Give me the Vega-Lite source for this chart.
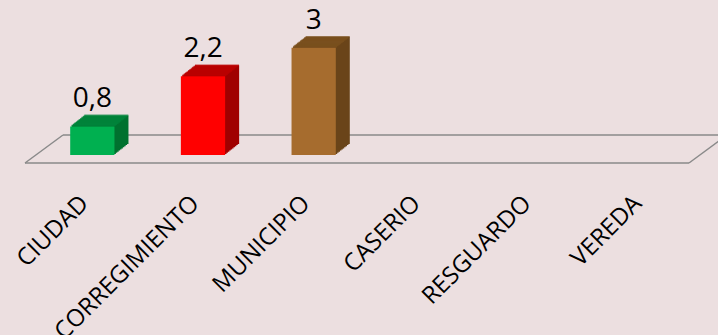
{
  "$schema": "https://vega.github.io/schema/vega-lite/v6.json",
  "width": 664,
  "height": 143,
  "autosize": {"type": "none"},
  "padding": {"left": 37, "top": 12, "right": 17, "bottom": 180},
  "background": "#ecdfe0",
  "config": {"view": {"stroke": null}, "font": "Open Sans"},
  "layer": [
    {
      "data": {"values": [{}]},
      "layer": [
        {"mark": {"type": "rule", "color": "#8a8a8a", "strokeWidth": 1.5, "xOffset": -12, "x2Offset": -12, "yOffset": 8, "y2Offset": 8},
         "encoding": {"x": {"datum": 0, "type": "quantitative", "scale": {"domain": [0, 1], "nice": false}, "axis": null}, "x2": {"datum": 1}, "y": {"datum": 0, "type": "quantitative", "axis": null}, "y2": {"datum": 0}}},
        {"mark": {"type": "rule", "color": "#8a8a8a", "strokeWidth": 1.5, "xOffset": 26, "x2Offset": 26, "yOffset": -20, "y2Offset": -20},
         "encoding": {"x": {"datum": 0, "type": "quantitative", "axis": null}, "x2": {"datum": 1}, "y": {"datum": 0, "type": "quantitative", "axis": null}, "y2": {"datum": 0}}},
        {"mark": {"type": "rule", "color": "#8a8a8a", "strokeWidth": 1.5, "xOffset": -12, "x2Offset": 26, "yOffset": 8, "y2Offset": -20},
         "encoding": {"x": {"datum": 0, "type": "quantitative", "axis": null}, "x2": {"datum": 0}, "y": {"datum": 0, "type": "quantitative", "axis": null}, "y2": {"datum": 0}}},
        {"mark": {"type": "rule", "color": "#8a8a8a", "strokeWidth": 1.5, "xOffset": -12, "x2Offset": 26, "yOffset": 8, "y2Offset": -20},
         "encoding": {"x": {"datum": 1, "type": "quantitative", "axis": null}, "x2": {"datum": 1}, "y": {"datum": 0, "type": "quantitative", "axis": null}, "y2": {"datum": 0}}}
      ]
    },
    {
      "data": {"values": [
        {"categoria": "CIUDAD", "valor": 0.8, "etiqueta": "0,8"},
        {"categoria": "CORREGIMIENTO", "valor": 2.2, "etiqueta": "2,2"},
        {"categoria": "MUNICIPIO", "valor": 3, "etiqueta": "3"},
        {"categoria": "CASERIO", "valor": null, "etiqueta": ""},
        {"categoria": "RESGUARDO", "valor": null, "etiqueta": ""},
        {"categoria": "VEREDA", "valor": null, "etiqueta": ""}
      ]},
      "encoding": {
        "x": {"field": "categoria", "type": "nominal", "sort": null,
              "scale": {"domain": ["CIUDAD", "CORREGIMIENTO", "MUNICIPIO", "CASERIO", "RESGUARDO", "VEREDA"], "paddingInner": 0.6, "paddingOuter": 0.3},
              "axis": {"title": null, "domain": false, "ticks": false, "labelAngle": -45, "labelFontSize": 24, "labelFont": "Open Sans", "labelColor": "#000000", "labelPadding": 36, "labelOffset": -16, "labelOverlap": false, "labelBound": false, "labelLimit": 0}},
        "y": {"field": "valor", "type": "quantitative", "scale": {"domain": [0, 4], "nice": false}, "axis": null}
      },
      "layer": [
        {
          "encoding": {"color": {"field": "categoria", "type": "nominal", "scale": {"domain": ["CIUDAD", "CORREGIMIENTO", "MUNICIPIO"], "range": ["#00712f", "#a00000", "#6a4419"]}, "legend": null}},
          "layer": [
            {"mark": {"type": "bar", "xOffset": 1.4, "x2Offset": 1.4, "yOffset": -1.1, "y2Offset": -1.1}},
            {"mark": {"type": "bar", "xOffset": 2.8, "x2Offset": 2.8, "yOffset": -2.2, "y2Offset": -2.2}},
            {"mark": {"type": "bar", "xOffset": 4.2, "x2Offset": 4.2, "yOffset": -3.3, "y2Offset": -3.3}},
            {"mark": {"type": "bar", "xOffset": 5.6, "x2Offset": 5.6, "yOffset": -4.4, "y2Offset": -4.4}},
            {"mark": {"type": "bar", "xOffset": 7, "x2Offset": 7, "yOffset": -5.5, "y2Offset": -5.5}},
            {"mark": {"type": "bar", "xOffset": 8.4, "x2Offset": 8.4, "yOffset": -6.6, "y2Offset": -6.6}},
            {"mark": {"type": "bar", "xOffset": 9.8, "x2Offset": 9.8, "yOffset": -7.7, "y2Offset": -7.7}},
            {"mark": {"type": "bar", "xOffset": 11.2, "x2Offset": 11.2, "yOffset": -8.8, "y2Offset": -8.8}},
            {"mark": {"type": "bar", "xOffset": 12.6, "x2Offset": 12.6, "yOffset": -9.9, "y2Offset": -9.9}},
            {"mark": {"type": "bar", "xOffset": 14, "x2Offset": 14, "yOffset": -11, "y2Offset": -11}}
          ]
        },
        {
          "encoding": {"color": {"field": "categoria", "type": "nominal", "scale": {"domain": ["CIUDAD", "CORREGIMIENTO", "MUNICIPIO"], "range": ["#00873d", "#c00000", "#7e5220"]}, "legend": null}},
          "layer": [
            {"mark": {"type": "tick", "orient": "horizontal", "size": 44, "thickness": 1.6, "xOffset": 1.4, "yOffset": -1.1}},
            {"mark": {"type": "tick", "orient": "horizontal", "size": 44, "thickness": 1.6, "xOffset": 2.8, "yOffset": -2.2}},
            {"mark": {"type": "tick", "orient": "horizontal", "size": 44, "thickness": 1.6, "xOffset": 4.2, "yOffset": -3.3}},
            {"mark": {"type": "tick", "orient": "horizontal", "size": 44, "thickness": 1.6, "xOffset": 5.6, "yOffset": -4.4}},
            {"mark": {"type": "tick", "orient": "horizontal", "size": 44, "thickness": 1.6, "xOffset": 7, "yOffset": -5.5}},
            {"mark": {"type": "tick", "orient": "horizontal", "size": 44, "thickness": 1.6, "xOffset": 8.4, "yOffset": -6.6}},
            {"mark": {"type": "tick", "orient": "horizontal", "size": 44, "thickness": 1.6, "xOffset": 9.8, "yOffset": -7.7}},
            {"mark": {"type": "tick", "orient": "horizontal", "size": 44, "thickness": 1.6, "xOffset": 11.2, "yOffset": -8.8}},
            {"mark": {"type": "tick", "orient": "horizontal", "size": 44, "thickness": 1.6, "xOffset": 12.6, "yOffset": -9.9}},
            {"mark": {"type": "tick", "orient": "horizontal", "size": 44, "thickness": 1.6, "xOffset": 14, "yOffset": -11}}
          ]
        },
        {
          "mark": {"type": "bar"},
          "encoding": {"color": {"field": "categoria", "type": "nominal", "scale": {"domain": ["CIUDAD", "CORREGIMIENTO", "MUNICIPIO"], "range": ["#00b050", "#ff0000", "#a66c2e"]}, "legend": null}}
        },
        {
          "mark": {"type": "text", "dy": -19, "baseline": "alphabetic", "fontSize": 28, "font": "Open Sans", "color": "#000000"},
          "encoding": {"text": {"field": "etiqueta"}}
        }
      ],
      "resolve": {"scale": {"color": "independent"}}
    }
  ],
  "resolve": {"scale": {"x": "independent"}}
}
